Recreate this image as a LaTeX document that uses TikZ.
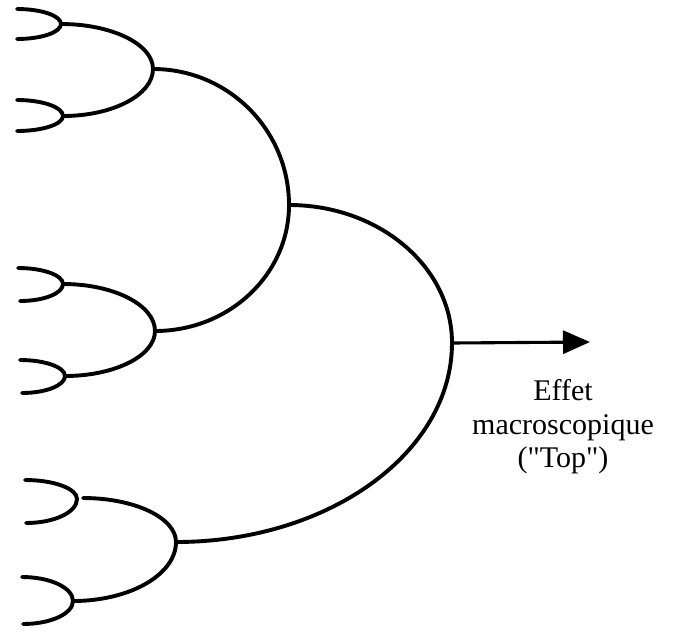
\documentclass[tikz,border=0pt]{standalone}
\usepackage{fontspec}
\setmainfont{Liberation Serif}
% plain family: keeps the straight double quotes
\newfontfamily\labelfont{Liberation Serif}
\usetikzlibrary{calc,arrows.meta}

% Bezier constant for a quarter ellipse
\def\qk{0.5523}
% Half oval opening to the left: top end -> right-hand tip -> bottom end
\newcommand\gatecurve[3]{%
  \draw[wire] let \p1=(#1), \p2=(#2), \p3=(#3) in
    (\p1) .. controls ({\x1+\qk*(\x2-\x1)},\y1) and (\x2,{\y2+\qk*(\y1-\y2)}) .. (\p2)
          .. controls (\x2,{\y2+\qk*(\y3-\y2)}) and ({\x3+\qk*(\x2-\x3)},\y3) .. (\p3);}

\begin{document}
\begin{tikzpicture}[x=1pt,y=-1pt,
  wire/.style={line width=3.9pt,line cap=round,line join=round},
  outwire/.style={line width=3.1pt,-{Triangle[length=27pt,width=23pt]}},
  toplabel/.style={align=center,inner sep=0pt,font=\labelfont\fontsize{30}{33.5}\selectfont}]
\useasboundingbox (0,0) rectangle (680,633);

% leaf ends and tips
\coordinate (l1t) at (17,9);   \coordinate (l1p) at (61,24);  \coordinate (l1b) at (17,39);
\coordinate (l2t) at (17,100); \coordinate (l2p) at (63,116); \coordinate (l2b) at (17,131);
\coordinate (l3t) at (18,268); \coordinate (l3p) at (63,284); \coordinate (l3b) at (20,301);
\coordinate (l4t) at (20,360); \coordinate (l4p) at (65,376); \coordinate (l4b) at (22,393);
\coordinate (l5t) at (25,480); \coordinate (l5p) at (77,499); \coordinate (l5b) at (26,523);
\coordinate (l6t) at (22,577); \coordinate (l6p) at (73,601); \coordinate (l6b) at (23,624);
% intermediate gates
\coordinate (ga) at (153,69);
\coordinate (gc) at (155,331);
\coordinate (get) at (83,498);
\coordinate (ge) at (176,542);
\coordinate (gb) at (289,205);
\coordinate (gd) at (452,343);
\coordinate (topend) at (590,342);

% leaves
\gatecurve{l1t}{l1p}{l1b}
\gatecurve{l2t}{l2p}{l2b}
\gatecurve{l3t}{l3p}{l3b}
\gatecurve{l4t}{l4p}{l4b}
\gatecurve{l5t}{l5p}{l5b}
\gatecurve{l6t}{l6p}{l6b}
% second level
\gatecurve{l1p}{ga}{l2p}
\gatecurve{l3p}{gc}{l4p}
\gatecurve{get}{ge}{l6p}
% third level
\gatecurve{ga}{gb}{gc}
% root
\gatecurve{gb}{gd}{ge}

\draw[outwire] (gd) -- (topend);

\node[toplabel,anchor=north] (lbl) at (563,379.5) {Effet\\macroscopique\\("Top")};
\end{tikzpicture}
\end{document}
